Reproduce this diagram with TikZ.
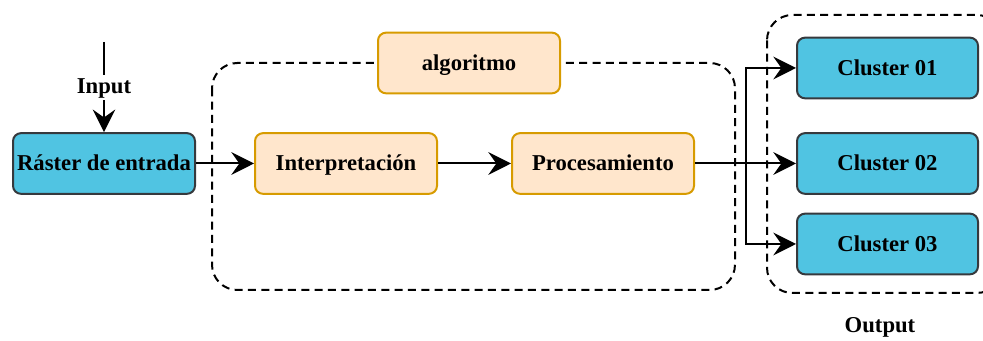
\documentclass[tikz,border=0pt]{standalone}
\usepackage{fontspec}
\setmainfont{Liberation Serif}
\usetikzlibrary{arrows.meta}
\definecolor{cyanfill}{HTML}{50C4E2}
\definecolor{cyanline}{HTML}{36393D}
\definecolor{algofill}{HTML}{FFE6CC}
\definecolor{algoline}{HTML}{D79B00}
\tikzset{
  base/.style={rounded corners=6pt, line width=1.5pt, align=center,
    font=\fontsize{17pt}{19pt}\selectfont\bfseries, inner sep=0pt,
    text height=14.7pt, text depth=3.5pt},
  blue box/.style={base, fill=cyanfill, draw=cyanline,
    minimum width=136.5pt, minimum height=45.5pt},
  algo box/.style={base, fill=algofill, draw=algoline,
    minimum width=136.5pt, minimum height=45.5pt},
  group/.style={draw=black, line width=1.5pt, dash pattern=on 6pt off 4pt,
    rounded corners=19pt},
  arr/.style={line width=1.5pt, draw=black,
    -{Stealth[length=17pt, width=17pt, inset=6pt]}},
  lbl/.style={font=\fontsize{17pt}{19pt}\selectfont\bfseries, inner sep=2pt}
}
\begin{document}
\begin{tikzpicture}[x=0.75pt, y=-0.75pt]
  \useasboundingbox (0,0) rectangle (983,341);
  \clip (0,0) rectangle (983,341);

  % dashed groups
  \draw[group] (212,63) rectangle (735,290);
  \draw[group] (767,15) rectangle (1002,293);

  % blocks
  \node[blue box] (raster) at (104,163.5) {Ráster de entrada};
  \node[algo box] (algo) at (469,63) {algoritmo};
  \node[algo box] (interp) at (346,163.5) {Interpretación};
  \node[algo box] (proc) at (603,163.5) {Procesamiento};
  \node[blue box, minimum width=135.75pt] (c1) at (887.5,68) {Cluster 01};
  \node[blue box, minimum width=135.75pt] (c2) at (887.5,163.5) {Cluster 02};
  \node[blue box, minimum width=135.75pt] (c3) at (887.5,244) {Cluster 03};

  % input
  \coordinate (in) at (104,42);
  \draw[arr] (in) -- (raster.north);
  \node[lbl, fill=white] (inlbl) at (104,88) {Input};

  % flow
  \draw[arr] (raster.east) -- (interp.west);
  \draw[arr] (interp.east) -- (proc.west);
  \coordinate (split) at (746,163.5);
  \draw[arr] (proc.east) -- (c2.west);
  \draw[arr] (split) |- (c1.west);
  \draw[arr] (split) |- (c3.west);

  \node[lbl] (outlbl) at (880,327) {Output};
\end{tikzpicture}
\end{document}
